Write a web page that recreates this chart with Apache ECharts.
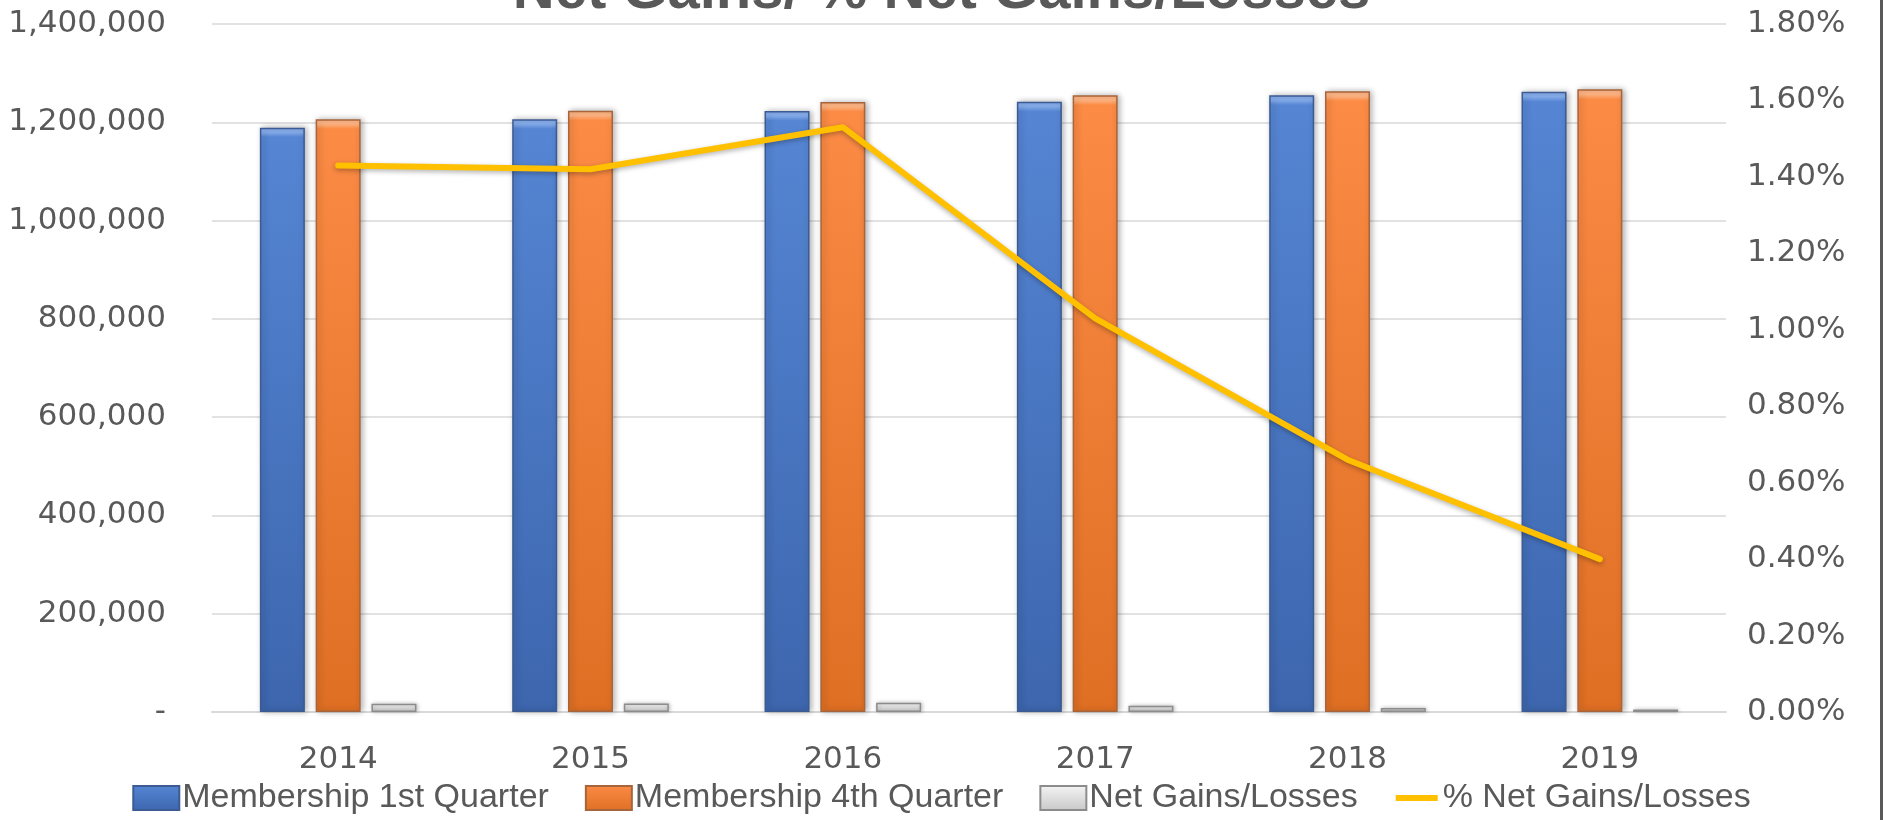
<!DOCTYPE html>
<html>
<head>
    <meta charset="utf-8">
    <script src="https://cdn.jsdelivr.net/npm/echarts@6/dist/echarts.min.js"></script>
    <style>
        html, body { margin: 0; padding: 0; background: #fff; }
    </style>
</head>
<body>
    <div id="main" style="width: 1883px;height:820px;"></div>
	<script type="text/javascript">
        // data
        var years = ['2014', '2015', '2016', '2017', '2018', '2019'];
        var firstQuarter = [1189000, 1206000, 1223000, 1242000, 1255000, 1262000];
        var fourthQuarter = [1206000, 1223500, 1241500, 1255000, 1263300, 1267100];
        var netGains = [17000, 17200, 18700, 12800, 8300, 5100];
        var pctNetGains = [0.0143, 0.0142, 0.0153, 0.0103, 0.0066, 0.0040];
        var leftTicks = { min: 0, max: 1400000, interval: 200000 };
        var rightTicks = { min: 0, max: 0.018, interval: 0.002 };

        var labelFont = 'DejaVu Sans';
        var textFont = 'Liberation Sans';

        function grad(top, bottom) {
            return new echarts.graphic.LinearGradient(0, 0, 0, 1, [
                { offset: 0, color: top },
                { offset: 0.008, color: top },
                { offset: 0.016, color: bottom[0] },
                { offset: 1, color: bottom[1] }
            ]);
        }

        var myChart = echarts.init(document.getElementById('main'));
		myChart.setOption({
            animation: false,
			title: {
				text: 'Net Gains/ % Net Gains/Losses',
                left: 'center',
                top: -42,
                textStyle: {
                    fontFamily: textFont,
                    fontWeight: 'bold',
                    fontSize: 58,
                    color: '#595959'
                }
			},
			legend: {
				data: [
                    { name: 'Membership 1st Quarter', icon: 'rect' },
                    { name: 'Membership 4th Quarter', icon: 'rect' },
                    { name: 'Net Gains/Losses', icon: 'rect' },
                    {
                        name: '% Net Gains/Losses',
                        icon: 'path://M0,0 M46,24 M2,9 L44,9 L44,15 L2,15 Z',
                        itemStyle: { color: '#ffc000' }
                    }
                ],
                bottom: 0,
                left: 'center',
                itemWidth: 46,
                itemHeight: 24,
                itemGap: 36,
                textStyle: {
                    fontFamily: textFont,
                    fontSize: 34,
                    color: '#595959',
                    padding: [0, 0, 0, -2]
                }
			},
            grid: {
                left: 212,
                right: 157,
                top: 24,
                bottom: 108
            },
			xAxis: {
                type: 'category',
				data: years,
                axisLine: { lineStyle: { color: '#d9d9d9', width: 2 } },
                axisTick: { show: false },
                axisLabel: {
                    fontFamily: labelFont,
                    fontSize: 31,
                    color: '#595959',
                    margin: 32
                }
			},
			yAxis: [{
                type: 'value',
                min: leftTicks.min,
                max: leftTicks.max,
                interval: leftTicks.interval,
                axisLine: { show: false },
                axisTick: { show: false },
                splitLine: { lineStyle: { color: '#d9d9d9', width: 1.5 } },
                axisLabel: {
                    fontFamily: labelFont,
                    fontSize: 31,
                    color: '#595959',
                    margin: 46,
                    formatter: function (v) {
                        return v === 0 ? '-' : v.toLocaleString('en-US');
                    }
                }
            }, {
                type: 'value',
                min: rightTicks.min,
                max: rightTicks.max,
                interval: rightTicks.interval,
                axisLine: { show: false },
                axisTick: { show: false },
                splitLine: { show: false },
                axisLabel: {
                    fontFamily: labelFont,
                    fontSize: 31,
                    color: '#595959',
                    margin: 21,
                    formatter: function (v) {
                        return (v * 100).toFixed(2) + '%';
                    }
                }
            }],
			series: [{
				name: 'Membership 1st Quarter',
				type: 'bar',
                barWidth: 45,
                barGap: '24%',
				data: firstQuarter,
                itemStyle: {
                    color: grad('#86adec', ['#5585d3', '#3d66ae']),
                    borderColor: '#3b5b92',
                    borderWidth: 1.5,
                    shadowColor: 'rgba(0,0,0,0.3)',
                    shadowBlur: 6,
                    shadowOffsetX: 2
                }
			}, {
				name: 'Membership 4th Quarter',
				type: 'bar',
                barWidth: 45,
                barGap: '24%',
				data: fourthQuarter,
                itemStyle: {
                    color: grad('#ffb584', ['#fb8b45', '#df6f23']),
                    borderColor: '#a8643a',
                    borderWidth: 1.5,
                    shadowColor: 'rgba(0,0,0,0.3)',
                    shadowBlur: 6,
                    shadowOffsetX: 2
                }
			}, {
				name: 'Net Gains/Losses',
				type: 'bar',
                barWidth: 45,
                barGap: '24%',
				data: netGains,
                itemStyle: {
                    color: new echarts.graphic.LinearGradient(0, 0, 0, 1, [
                        { offset: 0, color: '#f4f4f4' },
                        { offset: 1, color: '#c8c8c8' }
                    ]),
                    borderColor: '#8c8c8c',
                    borderWidth: 1.5,
                    shadowColor: 'rgba(0,0,0,0.25)',
                    shadowBlur: 4,
                    shadowOffsetX: 1
                }
			}, {
				name: '% Net Gains/Losses',
				type: 'line',
                yAxisIndex: 1,
				data: pctNetGains,
                symbol: 'none',
                lineStyle: {
                    color: '#ffc000',
                    width: 6,
                    cap: 'round',
                    join: 'round',
                    shadowColor: 'rgba(0,0,0,0.3)',
                    shadowBlur: 5,
                    shadowOffsetY: 2
                },
                itemStyle: { color: '#ffc000' }
			}],
            graphic: [{
                type: 'rect',
                right: 0,
                top: 0,
                shape: { width: 3, height: 820 },
                style: { fill: '#595959' }
            }]
		});
    </script>
</body>
</html>
